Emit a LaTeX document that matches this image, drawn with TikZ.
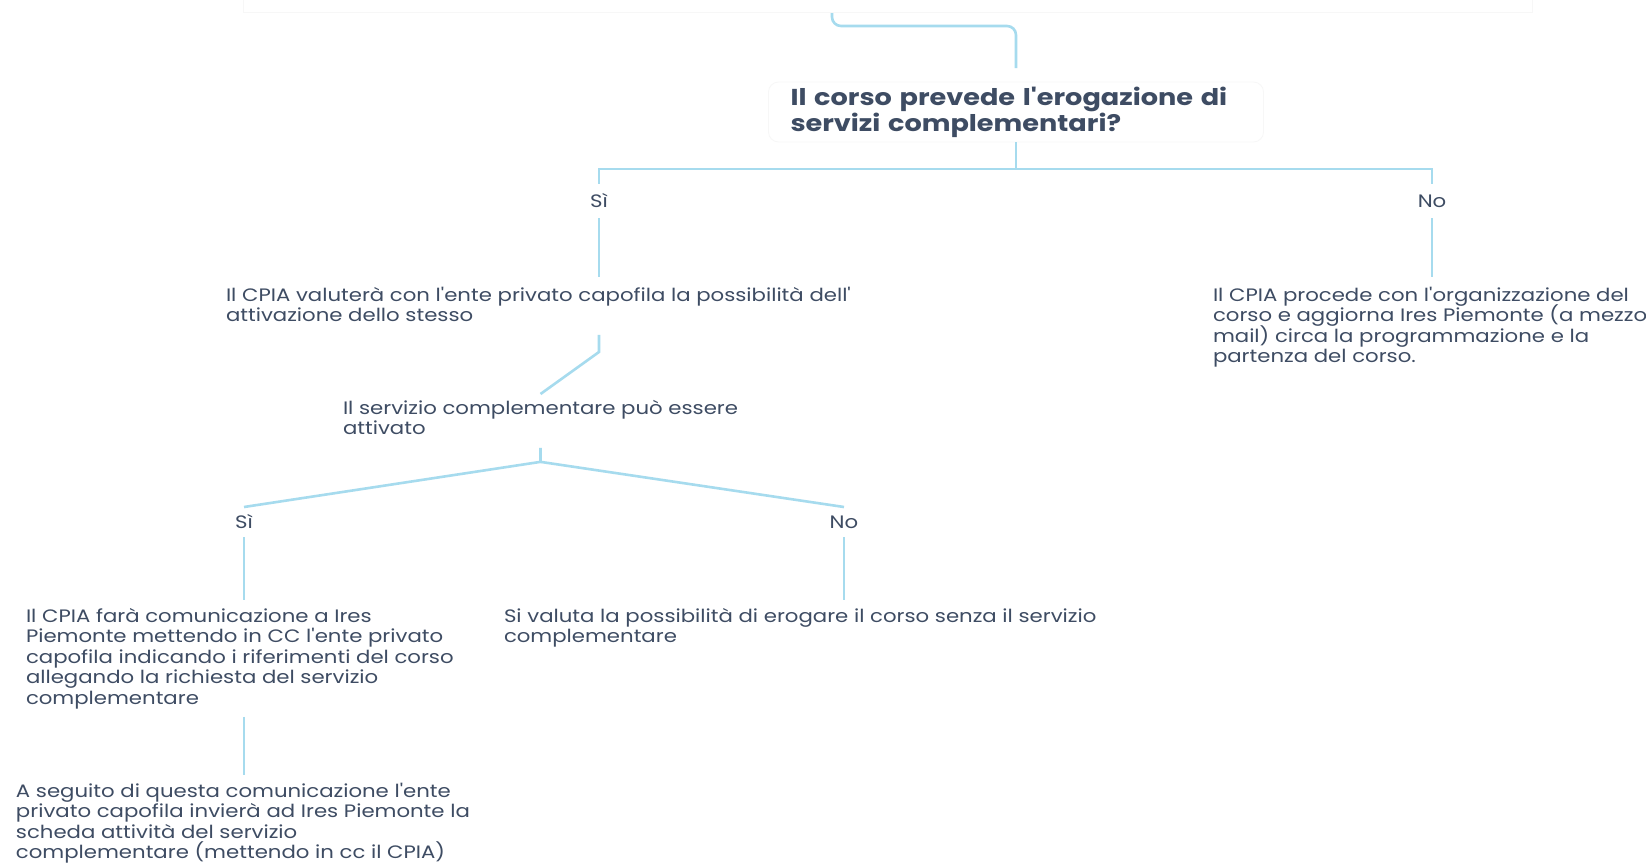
\documentclass[tikz,border=0pt]{standalone}
\usepackage{fontspec}
\newfontfamily\pop{Poppins}[FakeStretch=1.18]
\newcommand\tightlines{\lineskiplimit=-20pt\relax\lineskip=0pt\relax}
\definecolor{txt}{HTML}{3E4C63}
\definecolor{ln}{HTML}{A6DBEE}
\definecolor{faint}{HTML}{F7F7F7}
\tikzset{
  conn/.style={draw=ln, line width=2.6pt},
  body/.style={font=\pop\fontsize{18}{20.5}\selectfont\tightlines, text=txt, align=left, inner sep=0pt, outer sep=0pt, anchor=north west},
  lbl/.style={font=\pop\fontsize{18}{20.5}\selectfont, text=txt, inner sep=0pt, outer sep=0pt, minimum height=34pt},
  ttl/.style={font=\pop\bfseries\fontsize{23}{26}\selectfont\tightlines, text=txt, align=left, draw=faint, line width=0.8pt, rounded corners=10pt, text width=451pt, inner xsep=22pt, inner ysep=0pt, minimum height=60pt, outer sep=0pt}
}
\begin{document}
\begin{tikzpicture}[x=1pt,y=-1pt]
\useasboundingbox[fill=white] (0,0) rectangle (1646,862);
\draw[faint, line width=1pt] (243,0) -- (243,12) -- (1532,12) -- (1532,0);

\coordinate (top) at (832,13);
\node[ttl] (q1) at (1016,112) {Il corso prevede l'erogazione di\\servizi complementari?};
\draw[conn, rounded corners=9pt] (top) -- ++(0,13) -| ([yshift=14pt]q1.north);

\node[lbl] (si1) at (599,201) {Sì};
\node[lbl] (no1) at (1432,201) {No};
\draw[conn] (q1.south) -- ++(0,27) coordinate (b1) -| (si1.north);
\draw[conn] (b1) -| (no1.north);

\node[body] (t1) at (226,287) {Il CPIA valuterà con l'ente privato capofila la possibilità dell'\\attivazione dello stesso};
\node[body] (t6) at (1213,287) {Il CPIA procede con l'organizzazione del\\corso e aggiorna Ires Piemonte (a mezzo\\mail) circa la programmazione e la\\partenza del corso.};
\draw[conn] (si1.south) -- ([yshift=10pt]si1.south |- t1.north);
\draw[conn] (no1.south) -- ([yshift=10pt]no1.south |- t6.north);

\node[body] (s2) at (343,400) {Il servizio complementare può essere\\attivato};
\draw[conn] ([yshift=-13pt]si1.south |- t1.south) -- ++(0,17) -- ([yshift=6pt]s2.north);

\node[lbl, minimum height=30pt] (si2) at (244,522) {Sì};
\node[lbl, minimum height=30pt] (no2) at (844,522) {No};
\draw[conn] ([yshift=-13pt]s2.south) -- ++(0,14) coordinate (b2) -- (si2.north);
\draw[conn] (b2) -- (no2.north);

\node[body] (t3) at (26,608) {Il CPIA farà comunicazione a Ires\\Piemonte mettendo in CC l'ente privato\\capofila indicando i riferimenti del corso\\allegando la richiesta del servizio\\complementare};
\node[body] (t5) at (504,608) {Si valuta la possibilità di erogare il corso senza il servizio\\complementare};
\draw[conn] (si2.south) -- ([yshift=8pt]si2.south |- t3.north);
\draw[conn] (no2.south) -- ([yshift=8pt]no2.south |- t5.north);

\node[body] (t4) at (16,783) {A seguito di questa comunicazione l'ente\\privato capofila invierà ad Ires Piemonte la\\scheda attività del servizio\\complementare (mettendo in cc il CPIA)};
\draw[conn] ([yshift=-8pt]si2.south |- t3.south) -- ([yshift=8pt]si2.south |- t4.north);
\end{tikzpicture}
\end{document}
